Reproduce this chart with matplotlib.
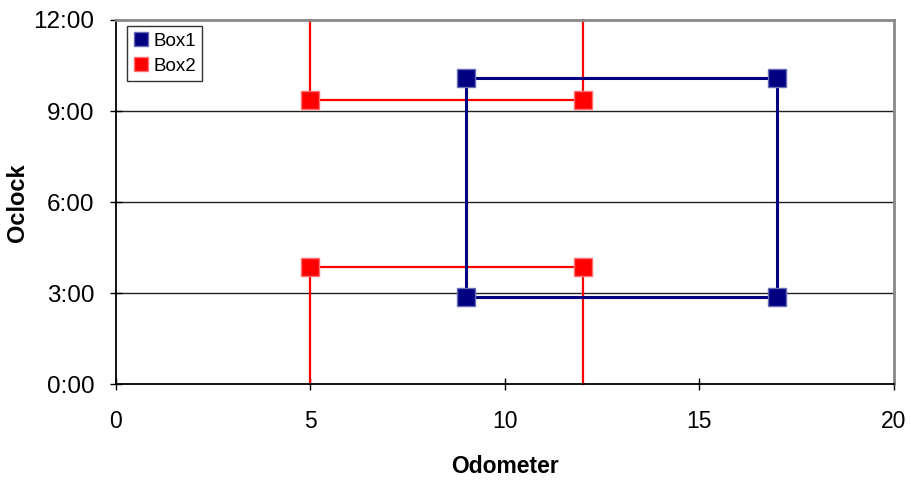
import numpy as np
import matplotlib.pyplot as plt

plt.rcParams['font.family'] = ['Liberation Sans', 'DejaVu Sans']

# Box1: closed rectangle (odometer, hours)
box1_x = [9, 17, 17, 9, 9]
box1_y = [10.10, 10.10, 2.87, 2.87, 10.10]

# Box2: wraps around midnight, drawn as two open pieces
box2_top_x = [5, 5, 12, 12]
box2_top_y = [12, 9.37, 9.37, 12]
box2_bot_x = [5, 5, 12, 12]
box2_bot_y = [0, 3.86, 3.86, 0]

y_ticks = [0, 3, 6, 9, 12]
y_labels = ['0:00', '3:00', '6:00', '9:00', '12:00']
x_ticks = [0, 5, 10, 15, 20]

navy = '#000080'
red = '#ff0000'

fig = plt.figure(figsize=(9.11, 4.83), dpi=100)
ax = fig.add_axes([0.1273, 0.204, 0.854, 0.7546])

for y in [3, 6, 9]:
    ax.axhline(y, color='#222222', lw=1.0, zorder=1)

ax.plot(box1_x, box1_y, color=navy, lw=2.2, marker='s', ms=12.5,
        mfc=navy, mec='#6a6ab8', mew=1.0, markevery=[0, 1, 2, 3],
        label='Box1', zorder=3)
ax.plot(box2_top_x, box2_top_y, color=red, lw=1.6, marker='s', ms=12.5,
        mfc=red, mec='#ff7070', mew=1.0, markevery=[1, 2],
        label='Box2', zorder=2, clip_on=False)
ax.plot(box2_bot_x, box2_bot_y, color=red, lw=1.6, marker='s', ms=12.5,
        mfc=red, mec='#ff7070', mew=1.0, markevery=[1, 2],
        zorder=2, clip_on=False)

ax.set_xlim(0, 20)
ax.set_ylim(0, 12)
ax.set_xticks(x_ticks)
ax.set_yticks(y_ticks)
ax.set_yticklabels(y_labels)

ax.tick_params(axis='y', direction='inout', length=9, width=1, pad=11, labelsize=17.5)
ax.tick_params(axis='x', direction='inout', length=9, width=1, pad=14, labelsize=16.5)

for side in ['left', 'bottom']:
    ax.spines[side].set_color('black')
    ax.spines[side].set_linewidth(1.3)
for side in ['top', 'right']:
    ax.spines[side].set_color('#888888')
    ax.spines[side].set_linewidth(2.0)

ax.set_xlabel('Odometer', fontsize=16.5, fontweight='bold', labelpad=16)
ax.set_ylabel('Oclock', fontsize=17, fontweight='bold')
ax.yaxis.set_label_coords(-0.112, 0.5)

leg = ax.legend(loc='upper left', bbox_to_anchor=(0.014, 0.983), frameon=True,
                fancybox=False, edgecolor='black', fontsize=13.5, handlelength=0.8,
                handletextpad=0.25, borderpad=0.35, labelspacing=0.4, borderaxespad=0)
leg.get_frame().set_linewidth(1.0)
for h in leg.legend_handles:
    h.set_linestyle('None')
    h.set_markersize(10)

fig.savefig('out.png', dpi=100, facecolor='white')
